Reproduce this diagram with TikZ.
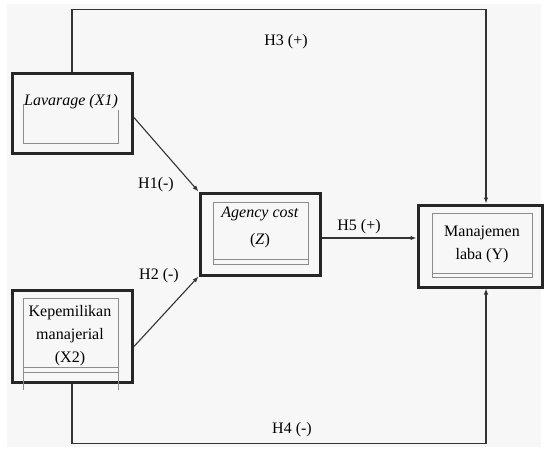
\documentclass[tikz,border=0pt]{standalone}
\usepackage{fontspec}
\setmainfont{Liberation Serif}
\usetikzlibrary{arrows.meta}

\tikzset{
  outerbox/.style={draw=black!85, line width=3pt, inner sep=0pt},
  innerline/.style={draw=black!45, line width=0.9pt},
  boxtext/.style={align=center, inner sep=0pt, font=\fontsize{16}{23}\selectfont},
  hyp/.style={inner sep=0pt, font=\fontsize{16}{19}\selectfont},
  link/.style={draw=black!80, line width=1.1pt},
  arrow/.style={link, -{Latex[length=6pt,width=4.5pt]}}
}

\begin{document}
\begin{tikzpicture}[x=1pt,y=-1pt]
  \useasboundingbox (0,0) rectangle (545,450);
  \fill[black!3] (7,4) rectangle (541,447);

  % outer boxes
  \node[outerbox, minimum width=120pt, minimum height=80pt] (lev) at (72,113) {};
  \node[outerbox, minimum width=120pt, minimum height=92pt] (kep) at (72,336) {};
  \node[outerbox, minimum width=120pt, minimum height=82pt] (agc) at (260,234) {};
  \node[outerbox, minimum width=124pt, minimum height=82pt] (man) at (480,246) {};

  % inner frames
  \draw[innerline] (23,104) -- (23,143) -- (118,143) -- (118,110);
  \draw[innerline] (23,390) -- (23,298) -- (118,298) -- (118,390);
  \draw[innerline] (23,367) -- (118,367) (23,372) -- (118,372);
  \draw[innerline] (213,202) rectangle (308,264);
  \draw[innerline] (213,259) -- (308,259);
  \draw[innerline] (432,213) rectangle (532,277);
  \draw[innerline] (432,273) -- (532,273);

  % box texts
  \node[boxtext] (levtext) at (71,102) {\textit{Lavarage (X1)}};
  \node[boxtext] (keptext) at (70,336) {Kepemilikan\\manajerial\\(X2)};
  \node[boxtext] (agctext) at (260,227) {\textit{Agency cost}\\[4pt](\textit{Z})};
  \node[boxtext] (mantext) at (482,244) {Manajemen\\laba (Y)};

  % connectors
  \draw[arrow] (lev.north) -- ++(0,-62) -| ([xshift=6pt]man.north);
  \draw[arrow] (kep.south) -- ++(0,60) -| ([xshift=6pt]man.south);
  \draw[arrow] ([yshift=-4pt]lev.east) -- (agc.north west);
  \draw[arrow] ([yshift=-11pt]kep.east) -- (agc.south west);
  \coordinate (h5start) at ([yshift=-4pt]agc.east);
  \draw[arrow] (h5start) -- (h5start -| man.west);

  % hypothesis labels
  \node[hyp] (h3) at (286,42) {H3 (+)};
  \node[hyp] (h1) at (156,185) {H1(-)};
  \node[hyp] (h2) at (159,276) {H2 (-)};
  \node[hyp] (h5) at (359,227) {H5 (+)};
  \node[hyp] (h4) at (292,430) {H4 (-)};
\end{tikzpicture}
\end{document}
